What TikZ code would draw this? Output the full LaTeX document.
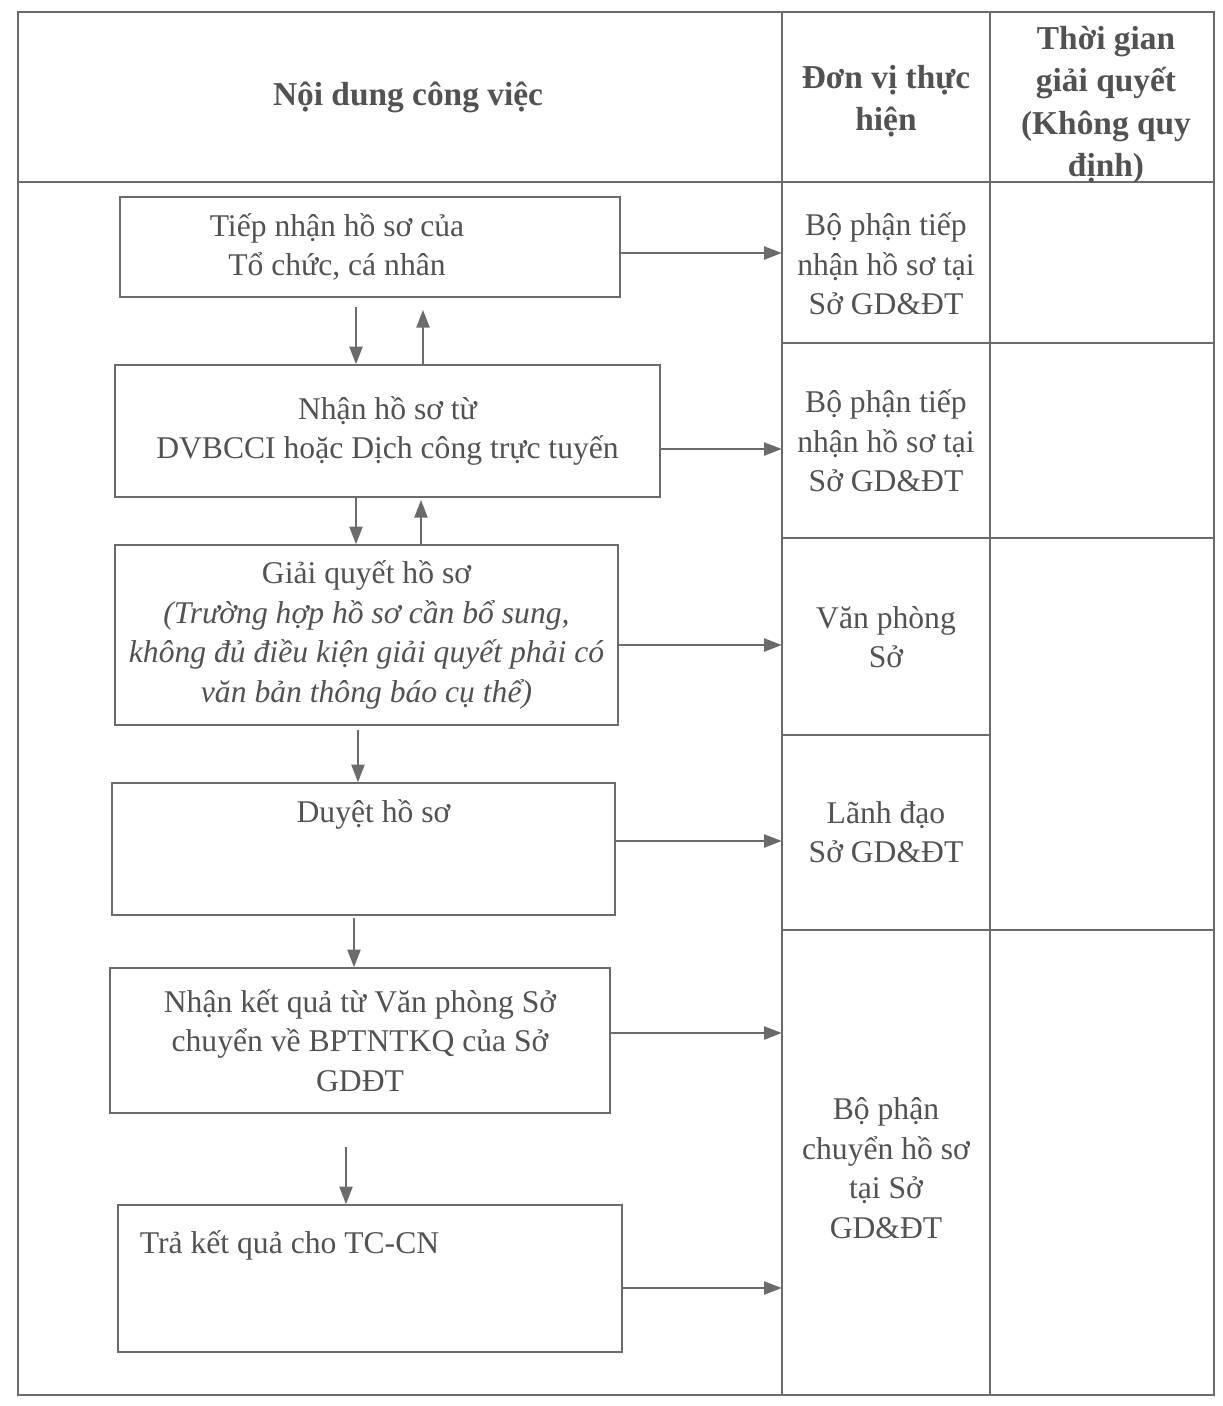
\documentclass[tikz,border=0pt]{standalone}
\usepackage{fontspec}
\setmainfont{Liberation Serif}
\usetikzlibrary{arrows.meta,positioning}
\definecolor{ink}{gray}{0.32}
\definecolor{rule}{gray}{0.42}
\tikzstyle{stepbox} = [draw=rule, line width=0.9pt, align=center, inner sep=0pt, text=ink]
\tikzstyle{flow} = [draw=rule, line width=0.9pt, -{Triangle[length=10pt,width=7.5pt]}]
\tikzstyle{cell} = [align=center, inner sep=0pt, text=ink, minimum width=4.16cm]
\tikzstyle{head} = [align=center, text=ink, font=\bfseries\fontsize{19}{24}\selectfont]
\tikzstyle{grid} = [draw=rule, line width=0.8pt]

\begin{document}
\begin{tikzpicture}[x=0.02cm, y=-0.02cm, font=\fontsize{18}{22.5}\selectfont]
			\useasboundingbox (0,0) rectangle (1223,1406);
			
			% table frame
			\draw [grid] (18,12) rectangle (1214,1395);
			\draw [grid] (782,12) -- (782,1395) (990,12) -- (990,1395);
			\draw [grid] (18,182) -- (1214,182);
			\draw [grid] (782,343) -- (1214,343) (782,538) -- (1214,538);
			\draw [grid] (782,735) -- (990,735) (782,930) -- (1214,930);
			
			\node [head] (hwork) at (408,97) {Nội dung công việc};
			\node [head] (hunit) at (886,101) {Đơn vị thực\\hiện};
			\node [head] (htime) at (1106,105) {Thời gian\\giải quyết\\(Không quy\\định)};
			
			% steps
			\node [stepbox, minimum width=10cm, minimum height=2cm,
				label={[align=center, xshift=-0.66cm, text=ink]center:Tiếp nhận hồ sơ của\\Tổ chức, cá nhân}] (box1) at (370,247) {};
			\node [stepbox, minimum width=10.9cm, minimum height=2.64cm] (box2) at (387.5,431) {Nhận hồ sơ từ\\DVBCCI hoặc Dịch công trực tuyến};
			\node [stepbox, minimum width=10.06cm, minimum height=3.6cm] (box3) at (366.5,635) {Giải quyết hồ sơ\\\textit{(Trường hợp hồ sơ cần bổ sung,}\\\textit{không đủ điều kiện giải quyết phải có}\\\textit{văn bản thông báo cụ thể)}};
			\node [stepbox, minimum width=10.06cm, minimum height=2.64cm,
				label={[anchor=north, xshift=0.2cm, yshift=-0.23cm, text=ink]north:Duyệt hồ sơ}] (box4) at (363.5,849) {};
			\node [stepbox, minimum width=10cm, minimum height=2.9cm] (box5) at (360,1040.5) {Nhận kết quả từ Văn phòng Sở\\chuyển về BPTNTKQ của Sở\\GDĐT};
			\node [stepbox, minimum width=10.08cm, minimum height=2.94cm,
				label={[anchor=north west, xshift=0.33cm, yshift=-0.41cm, text=ink]north west:Trả kết quả cho TC-CN}] (box6) at (370,1278.5) {};
			
			% units
			\node [cell] (unit1) at (886,264) {Bộ phận tiếp\\nhận hồ sơ tại\\Sở GD\&ĐT};
			\node [cell] (unit2) at (886,441) {Bộ phận tiếp\\nhận hồ sơ tại\\Sở GD\&ĐT};
			\node [cell] (unit3) at (886,637) {Văn phòng\\Sở};
			\node [cell] (unit4) at (886,832) {Lãnh đạo\\Sở GD\&ĐT};
			\node [cell] (unit5) at (886,1168) {Bộ phận\\chuyển hồ sơ\\tại Sở\\GD\&ĐT};
			
			\coordinate (d1) at (356,307);
			\coordinate (u1) at (423,310);
			\coordinate (d2) at (356,498);
			\coordinate (u2) at (421,500);
			\coordinate (d3) at (358,730);
			\coordinate (d4) at (354,918);
			\coordinate (d5) at (346,1147);
			\foreach \c/\b in {d1/box2,d2/box3,d3/box4,d4/box5,d5/box6}{
				\draw [flow] (\c) -- (\c |- \b.north);
			}
			\draw [flow] (u1 |- box2.north) -- (u1);
			\draw [flow] (u2 |- box3.north) -- (u2);
			
			\foreach \b/\u/\s in {box1/unit1/-0.12,box2/unit2/-0.36,box3/unit3/-0.2,box4/unit4/0.16,box5/unit5/0.15,box6/unit5/-0.19}{
				\draw [flow] ([yshift=\s cm]\b.east) -- ([yshift=\s cm]\b.east -| \u.west);
			}
			
\end{tikzpicture}
\end{document}
